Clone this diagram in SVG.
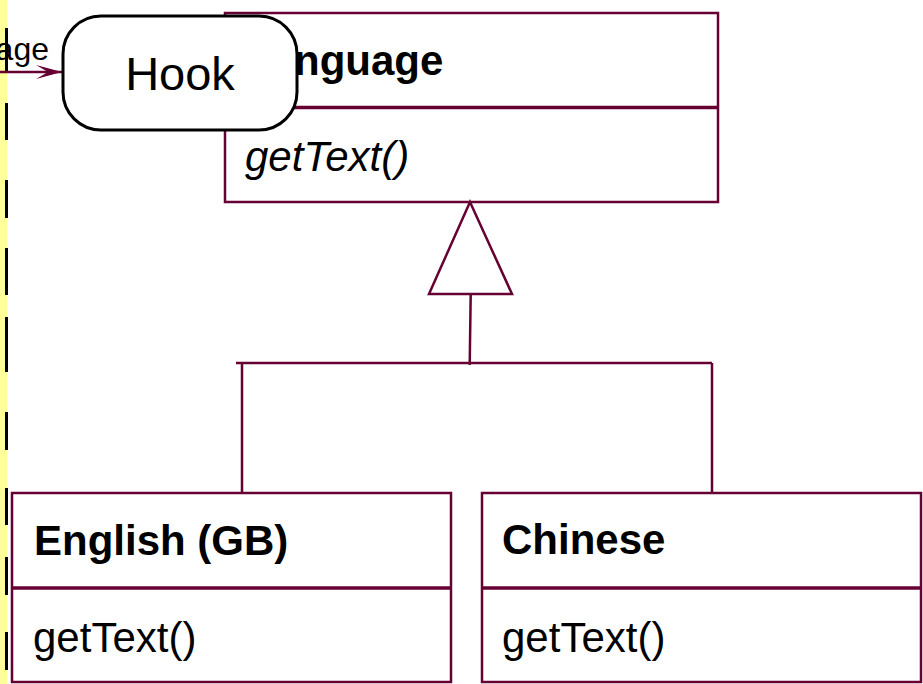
<svg xmlns="http://www.w3.org/2000/svg" width="923" height="684" viewBox="0 0 923 684">
<style>
.box{fill:#fff;stroke:#660033;stroke-width:2.5}
.div{stroke:#660033;stroke-width:3.5}
.conn{fill:none;stroke:#660033;stroke-width:2.5}
.t{font-family:"Liberation Sans",Arial,sans-serif;fill:#000}
.title{font-size:42px;font-weight:bold}
.op{font-size:42px}
</style>
<defs>
<marker id="arr" viewBox="0 0 26 14" refX="26" refY="7" markerWidth="26" markerHeight="14" markerUnits="userSpaceOnUse" orient="auto">
<path d="M0,0 L26,7 L0,14 L12,7 Z" fill="#660033"/>
</marker>
</defs>
<rect x="0" y="0" width="7" height="684" fill="#ffff99"/>
<path d="M6.5,28V72M6.5,103V140M6.5,180V218M6.5,248V295M6.5,317V372M6.5,412V450M6.5,488V525M6.5,557V595M6.5,632V670" stroke="#000" stroke-width="3" fill="none"/>
<g id="language">
<rect class="box" x="225" y="13" width="493" height="189"/>
<line class="div" x1="225" y1="107.5" x2="718" y2="107.5"/>
<text class="t title" x="245" y="75">Language</text>
<text class="t op" x="245" y="171" font-style="italic">getText()</text>
</g>
<g id="connectors">
<path class="conn" d="M470,202 L429,294 L512,294 Z"/>
<path class="conn" d="M470.7,294 L469.7,365"/>
<path class="conn" d="M236,363 L712,363 M242,363 L242,493 M712,363 L712,493"/>
<line x1="0" y1="72" x2="62" y2="72" stroke="#660033" stroke-width="2.5" marker-end="url(#arr)"/>
<text class="t" x="49" y="60" font-size="32" text-anchor="end">age</text>
</g>
<g id="english">
<rect class="box" x="12" y="493" width="439" height="189"/>
<line class="div" x1="12" y1="588" x2="451" y2="588"/>
<text class="t title" x="34" y="555">English (GB)</text>
<text class="t op" x="33" y="652">getText()</text>
</g>
<g id="chinese">
<rect class="box" x="482" y="493" width="439" height="189"/>
<line class="div" x1="482" y1="588" x2="921" y2="588"/>
<text class="t title" x="502" y="554">Chinese</text>
<text class="t op" x="502" y="652">getText()</text>
</g>
<g id="hook">
<rect x="63" y="16" width="234" height="114" rx="38" ry="38" fill="#fff" stroke="#000" stroke-width="3"/>
<text class="t" x="180" y="90" font-size="47" text-anchor="middle">Hook</text>
</g>
</svg>
